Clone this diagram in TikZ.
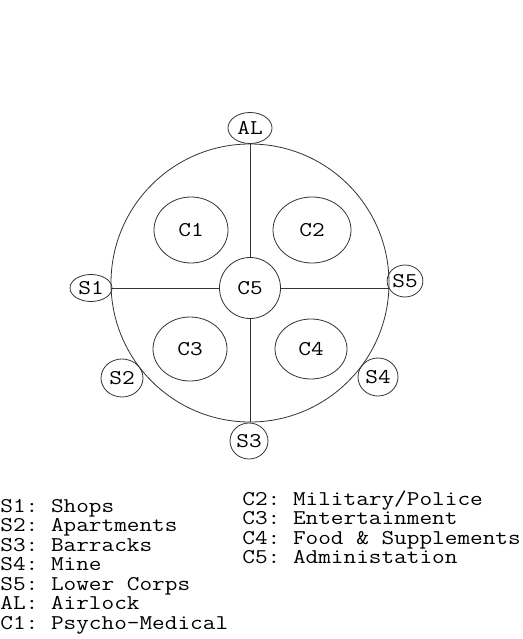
\documentclass[tikz,border=0pt]{standalone}
\usepackage{fontspec}
\newfontfamily\stationfont[FakeStretch=1.17]{Latin Modern Mono}
\usetikzlibrary{shapes.geometric}
\tikzset{
	pod/.style={draw=black!80, ellipse, inner sep=0pt},
	key/.style={anchor=base west, inner sep=0pt}
}
\begin{document}
\begin{tikzpicture}[x=1pt, y=-1pt, line width=0.8pt, font=\stationfont\fontsize{21}{19.5}\selectfont\frenchspacing]
	\useasboundingbox (0,0) rectangle (522,639);
	
	\node[draw=black!80, circle, minimum size=278, inner sep=0pt] (ring) at (250,283) {};
	
	\foreach \n/\x/\y/\w/\h in {C1/191/230/74/66, C2/312/230/78/66, C3/190/349/74/64, C4/311/349/72/60, C5/250/288/61/61,
		S1/91/288/42/27, S2/122/378/42/38, S3/249/441/38/36, S4/378/377/40/38, S5/405/281/32/32, AL/250/128/44/31}
	{
		\node[pod, minimum width=\w, minimum height=\h] (\n) at (\x,\y) {\n};
	}
	
	\draw[black!80] (C5) -- (C5 |- ring.north);
	\draw[black!80] (C5) -- (C5 |- ring.south);
	\draw[black!80] (C5) -- (C5 -| ring.west);
	\draw[black!80] (C5) -- (C5 -| ring.east);
	
	\foreach \t [count=\k from 0] in {S1: Shops, S2: Apartments, S3: Barracks, S4: Mine, S5: Lower Corps, AL: Airlock, C1: Psycho-Medical}
	{
		\node[key] (L\k) at (0, 512+19.5*\k) {\t};
	}
	\foreach \t [count=\k from 0] in {C2: Military/Police, C3: Entertainment, C4: Food \& Supplements, C5: Administation}
	{
		\node[key] (R\k) at (242, 505+19.5*\k) {\t};
	}
\end{tikzpicture}
\end{document}
